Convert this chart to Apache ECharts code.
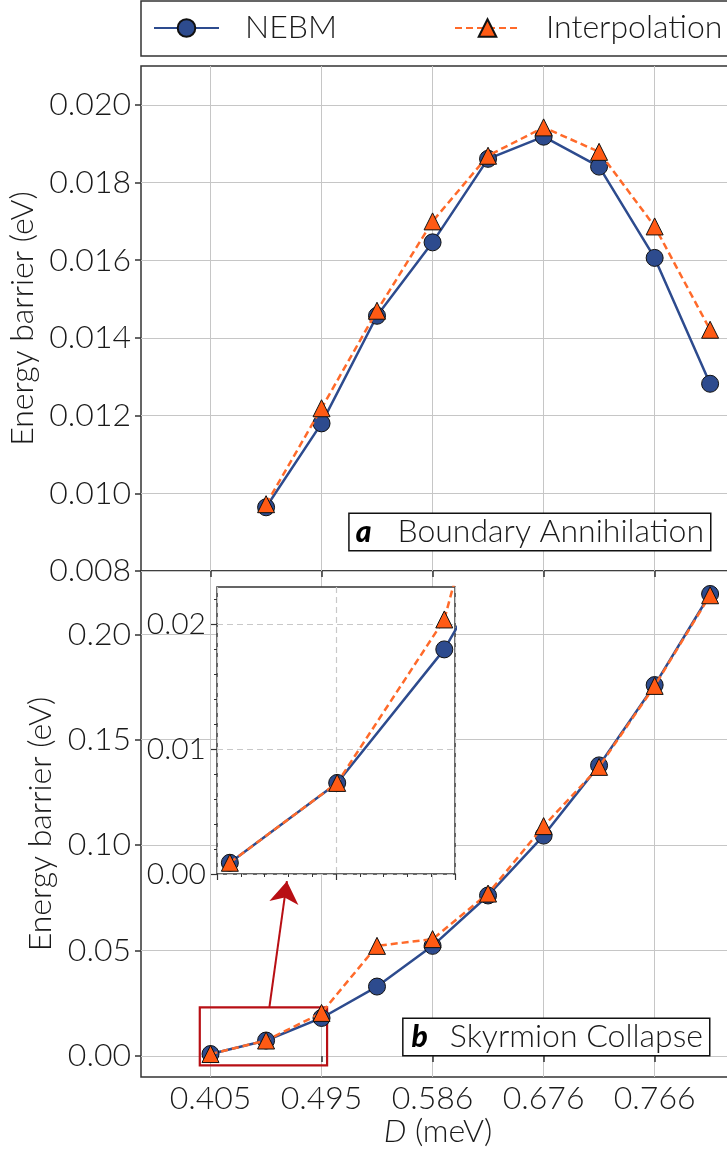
<!DOCTYPE html>
<html>
<head>
<meta charset="utf-8">
<script src="https://cdn.jsdelivr.net/npm/echarts@6/dist/echarts.min.js"></script>
<style>
  html, body { margin: 0; padding: 0; overflow: hidden; background: #ffffff; }
  #chart { width: 900px; height: 1154px; }
</style>
</head>
<body>
<div id="chart"></div>
<script>
// DMI constant D (meV) for each simulation
const dValues = [0.4054, 0.4505, 0.4955, 0.5405, 0.5856, 0.6306, 0.6757, 0.7207, 0.7658, 0.8108];
const xTickValues = [0.4054, 0.4955, 0.5856, 0.6757, 0.7658];
const xTickLabels = ['0.405', '0.495', '0.586', '0.676', '0.766'];

// (a) boundary annihilation barrier (eV)
const annihilationNEBM   = [null, 0.00964, 0.01180, 0.01457, 0.01646, 0.01861, 0.01918, 0.01841, 0.01606, 0.01282];
const annihilationInterp = [null, 0.00972, 0.01219, 0.01470, 0.01700, 0.01869, 0.01942, 0.01879, 0.01687, 0.01421];

// (b) skyrmion collapse barrier (eV)
const collapseNEBM   = [0.0009, 0.0073, 0.0180, 0.0329, 0.0522, 0.0761, 0.1045, 0.1378, 0.1759, 0.2191];
const collapseInterp = [0.0009, 0.0073, 0.0204, 0.0522, 0.0554, 0.0770, 0.1090, 0.1371, 0.1755, 0.2185];

const topYTicks    = [0.008, 0.010, 0.012, 0.014, 0.016, 0.018, 0.020];
const bottomYTicks = [0.00, 0.05, 0.10, 0.15, 0.20];
const insetYTicks  = [0.00, 0.01, 0.02];

// zoomed region and pointer into the inset
const zoomBoxCorners = [[0.3967, -0.0045], [0.5000, 0.0230]];
const arrowFrom = [0.4532, 0.0232];
const arrowTo   = [0.4674, 0.0829];

const FONT = 'Lato';
const BLUE = '#2d4b8e';
const ORANGE = '#ff5a14';
const ORANGE_LINE = '#ff6a2a';
const SPINE = '#333333';
const GRIDC = '#c6c6c6';
const RED = '#b80f14';

function pairs(ys) { return dValues.map((d, i) => [d, ys[i]]); }

const labelFont = { fontFamily: FONT, fontWeight: 300, fontSize: 32, color: '#1a1a1a' };

function nebmSeries(name, ys, xi, extra) {
  return Object.assign({
    name: name, type: 'line', xAxisIndex: xi, yAxisIndex: xi,
    data: pairs(ys), symbol: 'circle', symbolSize: 17, clip: true,
    itemStyle: { color: BLUE, borderColor: '#111', borderWidth: 1 },
    lineStyle: { color: BLUE, width: 2.5 },
    emphasis: { disabled: true }, silent: true, z: 2
  }, extra || {});
}
function interpSeries(name, ys, xi, extra) {
  return Object.assign({
    name: name, type: 'line', xAxisIndex: xi, yAxisIndex: xi,
    data: pairs(ys), symbol: 'triangle', symbolSize: 17, clip: true,
    itemStyle: { color: ORANGE, borderColor: '#111', borderWidth: 1 },
    lineStyle: { color: ORANGE_LINE, width: 2.5, type: [7, 4] },
    emphasis: { disabled: true }, silent: true, z: 3
  }, extra || {});
}

const chart = echarts.init(document.getElementById('chart'), null, { renderer: 'canvas' });

const option = {
  animation: false,
  backgroundColor: '#ffffff',
  legend: {
    data: ['NEBM', 'Interpolation'],
    left: 141, top: 1,
    orient: 'horizontal',
    itemWidth: 65, itemHeight: 22, itemGap: 117,
    padding: [11, 16, 12, 12],
    borderColor: SPINE, borderWidth: 1.5, backgroundColor: '#fff',
    textStyle: Object.assign({ padding: [0, 0, 0, 21] }, labelFont),
    selectedMode: false
  },
  grid: [
    { left: 141, top: 66, width: 594, height: 505, show: true, borderColor: SPINE, borderWidth: 1.5, backgroundColor: 'transparent', outerBoundsMode: 'none' },
    { left: 141, top: 571, width: 594, height: 506, show: true, borderColor: SPINE, borderWidth: 1.5, backgroundColor: 'transparent', outerBoundsMode: 'none' },
    { left: 217, top: 587, width: 238, height: 287, show: true, borderColor: SPINE, borderWidth: 1.5, backgroundColor: '#ffffff', zlevel: 1, outerBoundsMode: 'none' }
  ],
  xAxis: [
    {
      gridIndex: 0, type: 'value', min: 0.349, max: 0.831,
      axisLine: { show: false },
      axisTick: { show: true, customValues: xTickValues, length: 6, lineStyle: { color: SPINE, width: 1.5 } },
      axisLabel: { show: false },
      splitLine: { show: true, lineStyle: { color: GRIDC, width: 1 } }
    },
    {
      gridIndex: 1, type: 'value', min: 0.349, max: 0.831,
      axisLine: { show: false },
      axisTick: { show: true, customValues: xTickValues, length: 6, lineStyle: { color: SPINE, width: 1.5 } },
      axisLabel: Object.assign({
        customValues: xTickValues, margin: 6,
        formatter: v => xTickLabels[xTickValues.indexOf(v)]
      }, labelFont),
      splitLine: { show: true, lineStyle: { color: GRIDC, width: 1 } },
      name: '{i|D} (meV)', nameLocation: 'middle', nameGap: 34,
      nameTextStyle: Object.assign({ rich: { i: { fontStyle: 'italic', fontFamily: FONT, fontWeight: 300, fontSize: 32, color: '#1a1a1a' } } }, labelFont)
    },
    {
      gridIndex: 2, type: 'value', min: 0.40, max: 0.50, interval: 0.05, zlevel: 1,
      axisLine: { show: false },
      axisTick: { show: true, length: 6, lineStyle: { color: SPINE, width: 1.2 } },
      minorTick: { show: true, splitNumber: 5, length: 3, lineStyle: { color: SPINE, width: 1 } },
      axisLabel: { show: false },
      splitLine: { show: true, lineStyle: { color: '#c8c8c8', width: 1.2, type: [6, 4] } }
    }
  ],
  yAxis: [
    {
      gridIndex: 0, type: 'value', min: 0.008, max: 0.021, interval: 0.002,
      axisLine: { show: false },
      axisTick: { show: true, customValues: topYTicks, length: 6, lineStyle: { color: SPINE, width: 1.5 } },
      axisLabel: Object.assign({ customValues: topYTicks, margin: 10, formatter: v => v.toFixed(3) }, labelFont),
      splitLine: { show: true, lineStyle: { color: GRIDC, width: 1 } },
      name: 'Energy barrier (eV)', nameLocation: 'middle', nameGap: 96,
      nameTextStyle: labelFont
    },
    {
      gridIndex: 1, type: 'value', min: -0.01, max: 0.23,
      axisLine: { show: false },
      axisTick: { show: true, customValues: bottomYTicks, length: 6, lineStyle: { color: SPINE, width: 1.5 } },
      axisLabel: Object.assign({ customValues: bottomYTicks, margin: 10, formatter: v => v.toFixed(2) }, labelFont),
      splitLine: { show: true, lineStyle: { color: GRIDC, width: 1 } },
      name: 'Energy barrier (eV)', nameLocation: 'middle', nameGap: 80,
      nameTextStyle: labelFont
    },
    {
      gridIndex: 2, type: 'value', min: 0, max: 0.023, interval: 0.01, zlevel: 1,
      axisLine: { show: false },
      axisTick: { show: true, customValues: insetYTicks, length: 6, lineStyle: { color: SPINE, width: 1.2 } },
      minorTick: { show: true, splitNumber: 5, length: 3, lineStyle: { color: SPINE, width: 1 } },
      axisLabel: Object.assign({ customValues: insetYTicks, margin: 11, formatter: v => v.toFixed(2) }, labelFont, { fontSize: 30 }),
      splitLine: { show: true, lineStyle: { color: '#c8c8c8', width: 1.2, type: [6, 4] } }
    }
  ],
  series: [
    nebmSeries('NEBM', annihilationNEBM, 0),
    interpSeries('Interpolation', annihilationInterp, 0),
    nebmSeries('NEBM', collapseNEBM, 1),
    interpSeries('Interpolation', collapseInterp, 1, {
      markArea: {
        silent: true,
        itemStyle: { color: 'transparent', borderColor: RED, borderWidth: 2.2 },
        label: { show: false },
        data: [[{ coord: zoomBoxCorners[0] }, { coord: zoomBoxCorners[1] }]]
      },
      markLine: {
        silent: true,
        symbol: ['none', 'arrow'], symbolSize: 22,
        lineStyle: { color: RED, width: 2, type: 'solid' },
        itemStyle: { color: RED },
        label: { show: false },
        data: [[{ coord: arrowFrom }, { coord: arrowTo }]]
      }
    }),
    nebmSeries('NEBM', collapseNEBM, 2, { zlevel: 1 }),
    interpSeries('Interpolation', collapseInterp, 2, { zlevel: 1 })
  ],
  graphic: [
    {
      type: 'text', x: 710, y: 532, z: 100,
      style: {
        text: '{a|a}{t|Boundary Annihilation}',
        align: 'right', verticalAlign: 'middle',
        backgroundColor: '#fff', borderColor: '#111', borderWidth: 1.5,
        padding: [2, 6, 2, 6],
        rich: {
          a: { fontFamily: FONT, fontWeight: 900, fontStyle: 'italic', fontSize: 30, fill: '#000', padding: [0, 26, 0, 0] },
          t: { fontFamily: FONT, fontWeight: 300, fontSize: 32, fill: '#1a1a1a' }
        }
      }
    },
    {
      type: 'text', x: 709, y: 1037, z: 100,
      style: {
        text: '{a|b}{t|Skyrmion Collapse}',
        align: 'right', verticalAlign: 'middle',
        backgroundColor: '#fff', borderColor: '#111', borderWidth: 1.5,
        padding: [2, 6, 2, 8],
        rich: {
          a: { fontFamily: FONT, fontWeight: 900, fontStyle: 'italic', fontSize: 30, fill: '#000', padding: [0, 22, 0, 0] },
          t: { fontFamily: FONT, fontWeight: 300, fontSize: 32, fill: '#1a1a1a' }
        }
      }
    }
  ]
};

chart.setOption(option);
</script>
</body>
</html>
